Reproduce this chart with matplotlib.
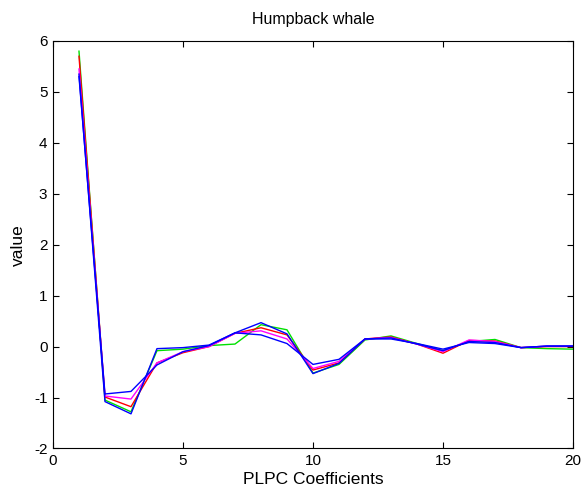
import matplotlib
matplotlib.use('Agg')
import matplotlib.pyplot as plt

plt.rcParams['font.family'] = ['Liberation Sans', 'DejaVu Sans']
plt.rcParams['axes.unicode_minus'] = False

coeffs = list(range(1, 21))

green = [5.8, -1.05, -1.28, -0.08, -0.05, 0.02, 0.05, 0.43, 0.33, -0.52,
         -0.35, 0.13, 0.21, 0.06, -0.08, 0.10, 0.14, -0.02, -0.04, -0.05]
red = [5.7, -0.99, -1.18, -0.32, -0.12, 0.0, 0.26, 0.37, 0.23, -0.46,
       -0.32, 0.15, 0.19, 0.05, -0.13, 0.12, 0.11, -0.02, 0.0, 0.0]
magenta = [5.45, -0.97, -1.03, -0.32, -0.10, 0.0, 0.26, 0.31, 0.15, -0.43,
           -0.29, 0.15, 0.18, 0.05, -0.10, 0.13, 0.10, -0.02, 0.01, 0.01]
blue_a = [5.3, -0.93, -0.88, -0.36, -0.10, 0.02, 0.27, 0.23, 0.06, -0.35,
          -0.25, 0.15, 0.15, 0.06, -0.05, 0.08, 0.06, -0.02, 0.01, 0.01]
blue_b = [5.35, -1.08, -1.32, -0.04, -0.02, 0.03, 0.27, 0.47, 0.25, -0.53,
          -0.33, 0.15, 0.17, 0.05, -0.08, 0.10, 0.08, -0.02, 0.01, 0.01]

series = [(green, '#00e000'), (red, '#ff0000'), (magenta, '#ff00ff'),
          (blue_a, '#0000ff'), (blue_b, '#0000ff')]

fig = plt.figure(figsize=(5.81, 4.88), dpi=100)
ax = fig.add_axes([0.0912, 0.081, 0.895, 0.835])

for vals, col in series:
    ax.plot(coeffs, vals, color=col, lw=1.0)

ax.set_xlim(0, 20)
ax.set_ylim(-2, 6)
ax.set_xticks([0, 5, 10, 15, 20])
ax.set_yticks(range(-2, 7))
ax.tick_params(direction='in', top=True, right=True, labelsize=11,
               length=4, width=0.8, pad=4)
for s in ax.spines.values():
    s.set_linewidth(0.8)

ax.set_title('Humpback whale', fontsize=11.5, pad=12)
ax.set_xlabel('PLPC Coefficients', fontsize=12.5, labelpad=3)
ax.set_ylabel('value', fontsize=12.5, labelpad=6)

fig.savefig('out.png', dpi=100)
